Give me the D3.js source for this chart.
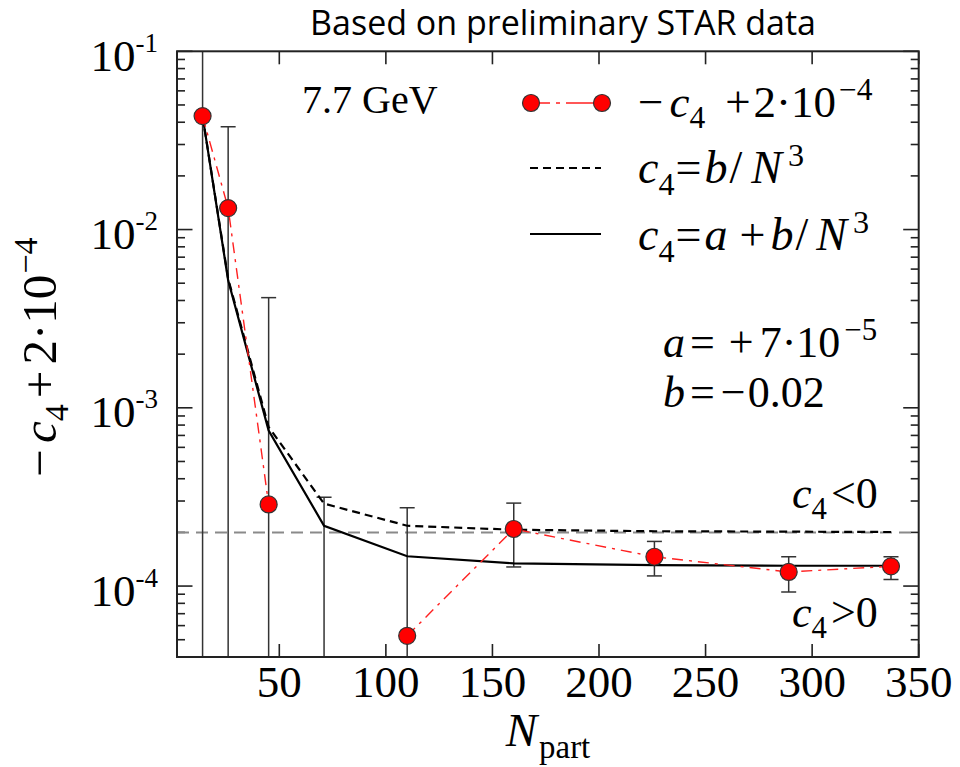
<!DOCTYPE html>
<html>
<head>
<meta charset="utf-8">
<script src="https://cdn.jsdelivr.net/npm/d3@7"></script>
<style>
  html, body { margin: 0; padding: 0; background: #fff; }
  svg { display: block; }
</style>
</head>
<body>
<svg id="chart" width="960" height="767"></svg>
<script>
// Participant number of each centrality class
const nPart = [14, 26, 45, 71, 110, 160, 226, 289, 337];
// Measured -c4 + 2e-4 (null where the value is not positive and cannot go on a log axis)
const shiftedC4 = [0.0433, 0.0132, 2.87e-4, null, 5.26e-5, 2.09e-4, 1.46e-4, 1.20e-4, 1.29e-4];
// Upper / lower ends of the error bars (null = runs past the axis range)
const errHigh = [null, 0.0377, 4.15e-3, 3.15e-4, 2.75e-4, 2.92e-4, 1.78e-4, 1.46e-4, 1.46e-4];
const errLow  = [null, null, null, null, null, 1.28e-4, 1.14e-4, 9.25e-5, 1.09e-4];
// Fits evaluated at the same N_part
const fitB  = [0.0433, 5.3e-3, 7.8e-4, 2.9e-4, 2.18e-4, 2.07e-4, 2.03e-4, 2.02e-4, 2.01e-4];
const fitAB = [0.0433, 5.19e-3, 7.46e-4, 2.18e-4, 1.47e-4, 1.34e-4, 1.31e-4, 1.30e-4, 1.30e-4];
// Sign boundary c4 = 0
const signLine = 2e-4;
// Axis setup
const xDomain = [2, 350];
const yDomain = [4e-5, 0.1];
const xTicks = [50, 100, 150, 200, 250, 300, 350];
const yMajor = [1e-4, 1e-3, 1e-2, 1e-1];
const yExponents = ["-4", "-3", "-2", "-1"];

const svg = d3.select("#chart");
const L = 177, R = 918.7, T = 51.3, B = 657;
const x = d3.scaleLinear().domain(xDomain).range([L, R]);
const y = d3.scaleLog().domain(yDomain).range([B, T]);

const SERIF = "'Liberation Serif'";
const SANS = "'Open Sans'";
const ink = "#222";

svg.append("defs").append("clipPath").attr("id", "plot")
  .append("rect").attr("x", L).attr("y", T).attr("width", R - L).attr("height", B - T);

// Title
svg.append("text").style("font-family", SANS).attr("x", 563).attr("y", 35).attr("text-anchor", "middle")
  .attr("font-size", 34).attr("fill", "#000").text("Based on preliminary STAR data");

// Ticks: majors and log minors on both vertical sides, majors on both horizontal sides
const ticksG = svg.append("g").attr("stroke", ink).attr("stroke-width", 1.6);
const minors = [];
for (let e = -5; e <= -1; e++) for (let m = 2; m <= 9; m++) {
  const v = m * Math.pow(10, e);
  if (v >= yDomain[0] && v <= yDomain[1]) minors.push(v);
}
yMajor.forEach(v => {
  ticksG.append("line").attr("x1", L).attr("x2", L + 15.5).attr("y1", y(v)).attr("y2", y(v));
  ticksG.append("line").attr("x1", R).attr("x2", R - 15.5).attr("y1", y(v)).attr("y2", y(v));
});
minors.forEach(v => {
  ticksG.append("line").attr("x1", L).attr("x2", L + 8).attr("y1", y(v)).attr("y2", y(v));
  ticksG.append("line").attr("x1", R).attr("x2", R - 8).attr("y1", y(v)).attr("y2", y(v));
});
xTicks.forEach(v => {
  ticksG.append("line").attr("x1", x(v)).attr("x2", x(v)).attr("y1", B).attr("y2", B - 13);
  ticksG.append("line").attr("x1", x(v)).attr("x2", x(v)).attr("y1", T).attr("y2", T + 13);
});

// Tick labels
const xl = svg.append("g").attr("font-size", 45).attr("fill", "#000");
xTicks.forEach(v => {
  xl.append("text").style("font-family", SERIF).attr("x", x(v)).attr("y", 697)
    .attr("text-anchor", "middle").text(v);
});
yMajor.forEach((v, i) => {
  const t = xl.append("text").style("font-family", SERIF).attr("x", 158).attr("y", y(v) + 19.5)
    .attr("text-anchor", "end");
  t.append("tspan").text("10");
  t.append("tspan").attr("font-size", 27).attr("dy", -19).text(yExponents[i]);
});

// Math-style text helper: parts may be italic, subscript or superscript, with extra spacing dx
function mathText(g, xPos, yPos, size, parts, anchor) {
  const t = g.append("text").style("font-family", SERIF).attr("x", xPos).attr("y", yPos)
    .attr("font-size", size).attr("fill", "#000")
    .attr("text-anchor", anchor || "start");
  let shift = 0;
  parts.forEach(p => {
    const target = p.sub ? size * 0.25 : p.sup ? -size * 0.38 : 0;
    const ts = t.append("tspan").attr("dy", target - shift)
      .attr("font-size", (p.sub || p.sup) ? size * 0.7 : size)
      .attr("font-style", p.it ? "italic" : "normal").text(p.t);
    if (p.dx) ts.attr("dx", p.dx);
    shift = target;
  });
  return t;
}

// Y axis title
const yTitle = svg.append("g").attr("transform", "translate(56,357) rotate(-90)");
mathText(yTitle, 0, 0, 49, [
  { t: "\u2212" }, { t: "c", it: true, dx: 6 }, { t: "4", sub: true },
  { t: "+", dx: 6 }, { t: "2\u00b710", dx: 6 }, { t: "\u22124", sup: true, dx: 1 }
], "middle");

// X axis title
mathText(svg, 548, 746, 47, [{ t: "N", it: true }, { t: "part", sub: true, dx: 2 }], "middle");

// Plot content
const plot = svg.append("g").attr("clip-path", "url(#plot)");

plot.append("line").attr("x1", L).attr("x2", R).attr("y1", y(signLine)).attr("y2", y(signLine))
  .attr("stroke", "#8a8a8a").attr("stroke-width", 2).attr("stroke-dasharray", "12,7");

// Error bars
const pts = nPart.map((n, i) => ({ n, v: shiftedC4[i], hi: errHigh[i], lo: errLow[i] }));
const eb = plot.append("g").attr("stroke", "#333").attr("stroke-width", 1.5).attr("fill", "none");
pts.forEach(p => {
  const yTop = p.hi === null ? T - 5 : y(p.hi);
  const yBot = p.lo === null ? B + 5 : y(p.lo);
  eb.append("line").attr("x1", x(p.n)).attr("x2", x(p.n)).attr("y1", yTop).attr("y2", yBot);
  if (p.hi !== null) eb.append("line").attr("x1", x(p.n) - 7.5).attr("x2", x(p.n) + 7.5).attr("y1", yTop).attr("y2", yTop);
  if (p.lo !== null) eb.append("line").attr("x1", x(p.n) - 7.5).attr("x2", x(p.n) + 7.5).attr("y1", yBot).attr("y2", yBot);
});

// Fit curves
const fitLine = d3.line().x(d => x(d[0])).y(d => y(d[1]));
plot.append("path").datum(nPart.map((n, i) => [n, fitB[i]])).attr("d", fitLine)
  .attr("fill", "none").attr("stroke", "#000").attr("stroke-width", 2.2).attr("stroke-dasharray", "8,5");
plot.append("path").datum(nPart.map((n, i) => [n, fitAB[i]])).attr("d", fitLine)
  .attr("fill", "none").attr("stroke", "#000").attr("stroke-width", 2.2);

// Data: dash-dot connector and markers
const dataLine = d3.line().defined(d => d.v !== null).x(d => x(d.n)).y(d => y(d.v));
plot.append("path").datum(pts).attr("d", dataLine).attr("fill", "none")
  .attr("stroke", "#ff2020").attr("stroke-width", 1.4).attr("stroke-dasharray", "11,6,3,6");
plot.selectAll("circle.pt").data(pts.filter(p => p.v !== null)).join("circle")
  .attr("class", "pt").attr("cx", d => x(d.n)).attr("cy", d => y(d.v)).attr("r", 8.5)
  .attr("fill", "#ff0000").attr("stroke", "#333").attr("stroke-width", 1.2);

// Frame
svg.append("rect").attr("x", L).attr("y", T).attr("width", R - L).attr("height", B - T)
  .attr("fill", "none").attr("stroke", ink).attr("stroke-width", 2);

// Legend
const lg = svg.append("g");
lg.append("line").attr("x1", 531).attr("x2", 602).attr("y1", 103).attr("y2", 103)
  .attr("stroke", "#ff2020").attr("stroke-width", 1.4).attr("stroke-dasharray", "19,6,4,6,40");
[531, 602].forEach(cx => lg.append("circle").attr("cx", cx).attr("cy", 103).attr("r", 8.5)
  .attr("fill", "#ff0000").attr("stroke", "#333").attr("stroke-width", 1.2));
lg.append("line").attr("x1", 530).attr("x2", 601).attr("y1", 168).attr("y2", 168)
  .attr("stroke", "#000").attr("stroke-width", 2.2).attr("stroke-dasharray", "8,5");
lg.append("line").attr("x1", 530).attr("x2", 601).attr("y1", 234).attr("y2", 234)
  .attr("stroke", "#000").attr("stroke-width", 2.2);

mathText(lg, 638, 117, 45, [
  { t: "\u2212" }, { t: "c", it: true, dx: 6 }, { t: "4", sub: true },
  { t: "+", dx: 20 }, { t: "2\u00b710", dx: 3 }, { t: "\u22124", sup: true, dx: 3 }
]);
mathText(lg, 638, 183, 46, [
  { t: "c", it: true }, { t: "4", sub: true }, { t: "=", dx: 1 }, { t: "b", it: true, dx: 3 },
  { t: "/", dx: 2 }, { t: "N", it: true, dx: 9 }, { t: "3", sup: true, dx: 6 }
]);
mathText(lg, 638, 250, 46, [
  { t: "c", it: true }, { t: "4", sub: true }, { t: "=", dx: 1 }, { t: "a", it: true, dx: 3 },
  { t: "+", dx: 12 }, { t: "b", it: true, dx: 5 }, { t: "/", dx: 2 }, { t: "N", it: true, dx: 8 },
  { t: "3", sup: true, dx: 6 }
]);

// Annotations
svg.append("text").style("font-family", SERIF).attr("x", 302).attr("y", 113)
  .attr("font-size", 40).attr("fill", "#000").text("7.7 GeV");
mathText(svg, 663, 357, 44, [
  { t: "a", it: true }, { t: "=", dx: 5 }, { t: "+", dx: 14 }, { t: "7\u00b710", dx: 6 },
  { t: "\u22125", sup: true, dx: 4 }
]);
mathText(svg, 663, 407, 44, [
  { t: "b", it: true }, { t: "=", dx: 5 }, { t: "\u2212", dx: 6 }, { t: "0.02", dx: 2 }
]);
mathText(svg, 792, 508, 44, [{ t: "c", it: true }, { t: "4", sub: true }, { t: "<0", dx: 4 }]);
mathText(svg, 792, 627, 44, [{ t: "c", it: true }, { t: "4", sub: true }, { t: ">0", dx: 4 }]);
</script>
</body>
</html>
